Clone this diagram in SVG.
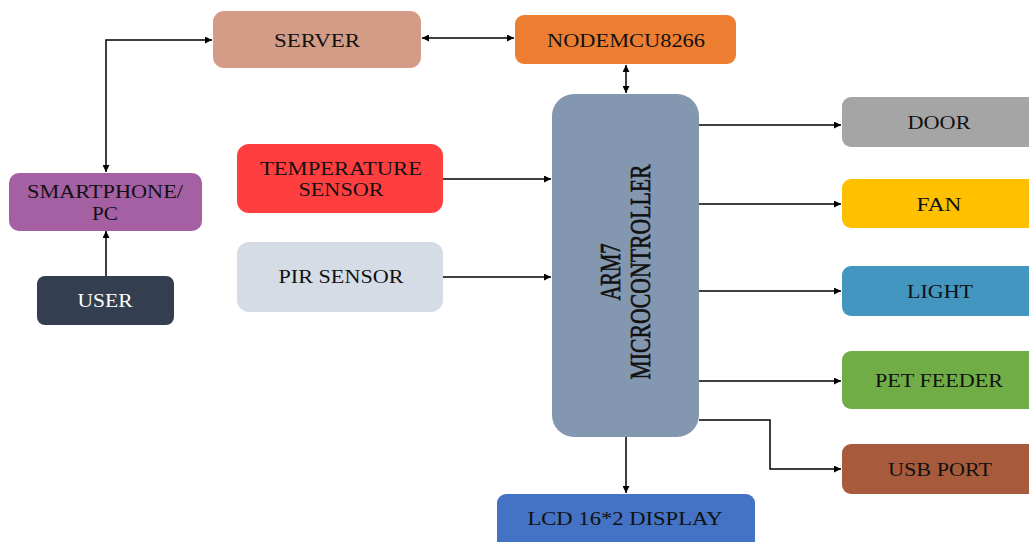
<svg xmlns="http://www.w3.org/2000/svg" width="1029" height="542" viewBox="0 0 1029 542">
<defs>
<marker id="ah" viewBox="0 0 10 10" refX="10" refY="5" markerWidth="8" markerHeight="7" markerUnits="userSpaceOnUse" orient="auto-start-reverse">
<path d="M0,0 L10,5 L0,10 z" fill="#000"/>
</marker>
<style>
.lbl{font-family:"Liberation Serif","Times New Roman",serif;font-size:19px;fill:#111;text-anchor:middle}
.w{fill:#fff}
.rot{font-size:22px;stroke:#111;stroke-width:0.5}
.c{fill:none;stroke:#000;stroke-width:1.5}
</style>
</defs>
<rect width="1029" height="542" fill="#fff"/>
<g id="connectors">
<path class="c" d="M106,172 V40 H212" marker-start="url(#ah)" marker-end="url(#ah)"/>
<path class="c" d="M106,276 V231" marker-end="url(#ah)"/>
<path class="c" d="M422,38 H514" marker-start="url(#ah)" marker-end="url(#ah)"/>
<path class="c" d="M626,65 V93" marker-start="url(#ah)" marker-end="url(#ah)"/>
<path class="c" d="M443,179 H551" marker-end="url(#ah)"/>
<path class="c" d="M443,277 H551" marker-end="url(#ah)"/>
<path class="c" d="M699,125 H841" marker-end="url(#ah)"/>
<path class="c" d="M699,204 H841" marker-end="url(#ah)"/>
<path class="c" d="M699,291 H841" marker-end="url(#ah)"/>
<path class="c" d="M699,381 H841" marker-end="url(#ah)"/>
<path class="c" d="M699,420 H770 V469 H841" marker-end="url(#ah)"/>
<path class="c" d="M626,437 V493" marker-end="url(#ah)"/>
</g>
<g id="server"><rect x="213" y="11" width="208" height="57" rx="11" fill="#D49C86"/><text class="lbl" x="317" y="47" textLength="86" lengthAdjust="spacingAndGlyphs">SERVER</text></g>
<g id="nodemcu"><rect x="515" y="15" width="221" height="49" rx="9" fill="#ED7D31"/><text class="lbl" x="626" y="47" textLength="158" lengthAdjust="spacingAndGlyphs">NODEMCU8266</text></g>
<g id="smartphone"><rect x="9" y="173" width="193" height="58" rx="10" fill="#A55FA3"/><text class="lbl" x="105" y="198" textLength="156" lengthAdjust="spacingAndGlyphs">SMARTPHONE/</text><text class="lbl" x="105" y="220" textLength="26" lengthAdjust="spacingAndGlyphs">PC</text></g>
<g id="user"><rect x="37" y="276" width="137" height="49" rx="8" fill="#333F50"/><text class="lbl w" x="105" y="307" textLength="55" lengthAdjust="spacingAndGlyphs">USER</text></g>
<g id="temp"><rect x="237" y="144" width="206" height="69" rx="12" fill="#FF3F3F"/><text class="lbl" x="341" y="175" textLength="162" lengthAdjust="spacingAndGlyphs">TEMPERATURE</text><text class="lbl" x="341" y="196" textLength="85" lengthAdjust="spacingAndGlyphs">SENSOR</text></g>
<g id="pir"><rect x="237" y="242" width="206" height="70" rx="12" fill="#D6DCE5"/><text class="lbl" x="341" y="283" textLength="125" lengthAdjust="spacingAndGlyphs">PIR SENSOR</text></g>
<g id="arm7"><rect x="552" y="94" width="147" height="343" rx="22" fill="#8497B0"/>
<g transform="translate(620,272) scale(1.3,1) rotate(-90)"><text class="lbl rot" x="0" y="0" textLength="57" lengthAdjust="spacingAndGlyphs">ARM7</text></g>
<g transform="translate(650,272) scale(1.3,1) rotate(-90)"><text class="lbl rot" x="0" y="0" textLength="215" lengthAdjust="spacingAndGlyphs">MICROCONTROLLER</text></g>
</g>
<g id="door"><rect x="842" y="97" width="200" height="50" rx="9" fill="#A5A5A5"/><text class="lbl" x="939" y="129" textLength="63" lengthAdjust="spacingAndGlyphs">DOOR</text></g>
<g id="fan"><rect x="842" y="179" width="200" height="49" rx="9" fill="#FFC000"/><text class="lbl" x="939" y="211" textLength="45" lengthAdjust="spacingAndGlyphs">FAN</text></g>
<g id="light"><rect x="842" y="266" width="200" height="50" rx="9" fill="#4296BF"/><text class="lbl" x="940" y="298" textLength="66" lengthAdjust="spacingAndGlyphs">LIGHT</text></g>
<g id="petfeeder"><rect x="842" y="351" width="200" height="58" rx="9" fill="#70AD47"/><text class="lbl" x="939" y="387" textLength="128" lengthAdjust="spacingAndGlyphs">PET FEEDER</text></g>
<g id="usb"><rect x="842" y="444" width="200" height="50" rx="9" fill="#A85B3C"/><text class="lbl" x="940" y="476" textLength="104" lengthAdjust="spacingAndGlyphs">USB PORT</text></g>
<g id="lcd"><rect x="497" y="494" width="258" height="60" rx="9" fill="#4472C4"/><text class="lbl" x="625" y="525" textLength="195" lengthAdjust="spacingAndGlyphs">LCD 16*2 DISPLAY</text></g>
</svg>
